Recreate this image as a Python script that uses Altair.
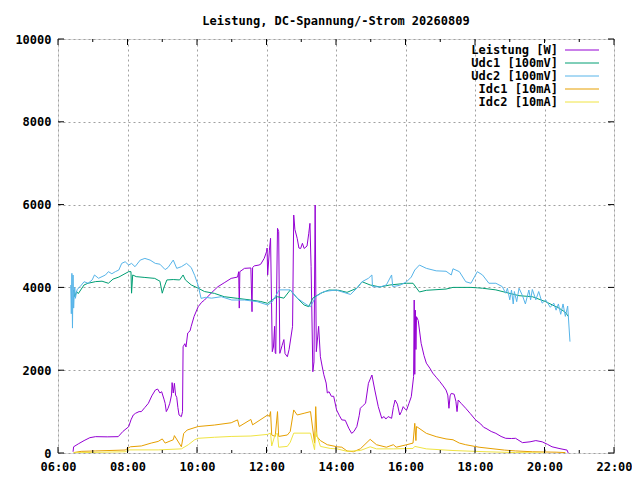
import altair as alt
import pandas as pd

# ---------------- data ----------------
series_names = ["Leistung [W]", "Udc1 [100mV]", "Udc2 [100mV]", "Idc1 [10mA]", "Idc2 [10mA]"]
series_colors = ["#9400d3", "#009e73", "#56b4e9", "#e69f00", "#f0e442"]

p_t = ["06:26","06:27","06:35","06:45","06:55","07:05","07:25","07:44","07:52","08:02","08:06","08:10",
       "08:14","08:20","08:24","08:30","08:36","08:42","08:48","08:52","08:56","08:59","09:03","09:05",
       "09:07","09:10","09:13","09:16","09:17","09:19","09:21","09:23","09:25","09:27","09:29","09:33",
       "09:35","09:36","09:39","09:41","09:44","09:48","09:50","09:55","10:02","10:08","10:13","10:25",
       "10:36","10:48","10:59","11:10","11:12","11:13","11:14","11:22","11:33","11:35","11:36","11:39",
       "11:47","11:50","11:56","12:00","12:01","12:02","12:05","12:07","12:10","12:12","12:14","12:15",
       "12:16","12:19","12:21","12:23","12:27","12:30","12:32","12:36","12:39","12:45","12:47","12:49",
       "12:53","12:56","12:59","13:02","13:05","13:10","13:13","13:15","13:17","13:20","13:22","13:24",
       "13:26","13:30","13:33","13:36","13:39","13:43","13:45","13:48","13:52","13:56","14:01","14:06",
       "14:10","14:16","14:22","14:27","14:31","14:36","14:40","14:42","14:47","14:51","14:56","15:02",
       "15:07","15:13","15:19","15:23","15:26","15:30","15:36","15:39","15:42","15:46","15:50","15:53",
       "15:56","16:00","16:02","16:06","16:10","16:14","16:15","16:16","16:17","16:18","16:19","16:22",
       "16:27","16:32","16:36","16:42","16:47","16:53","16:59","17:05","17:10","17:13","17:15","17:17",
       "17:19","17:24","17:27","17:29","17:31","17:36","17:44","17:52","18:01","18:10","18:15","18:19",
       "18:28","18:36","18:45","18:53","19:03","19:10","19:22","19:35","19:45","19:56","20:05","20:13",
       "20:25","20:39","20:41"]
p_v = [30,150,220,300,370,395,390,395,520,635,800,918,
       960,1000,1000,1100,1200,1380,1520,1545,1450,1480,1300,1200,
       1000,1080,1200,1400,1700,1450,1683,1400,1345,1100,918,878,
       1000,2567,2640,2560,2898,2950,3060,3300,3533,3640,3695,3870,
       4016,4120,4218,4250,4379,3500,4380,4460,4470,3413,4480,4520,
       4540,4560,4700,4860,4950,4300,4900,5185,2447,2560,3060,2420,
       2400,5427,5350,2407,2600,2740,2400,2325,2500,3060,5748,5400,
       5185,4950,4940,5065,4940,5000,5308,5547,4500,1963,2200,5990,
       2447,3060,2325,2100,1890,1690,1450,1480,1370,1370,1040,900,
       800,790,600,475,520,640,900,1080,1150,1200,1683,1884,
       1520,1120,838,880,820,880,838,1100,1280,1180,918,1000,
       1120,1050,1040,1200,1360,1844,3695,1900,3450,2500,3292,3200,
       2650,2350,2170,2050,1930,1830,1730,1620,1520,1400,1080,1380,
       1440,1420,1250,1000,1280,1200,1080,950,800,700,620,595,
       520,475,400,355,350,355,250,270,300,270,210,150,
       110,70,0]

u1_t = ["06:27","06:29","06:32","06:35","06:45","06:52","07:05","07:16","07:27","07:35","07:45","08:02",
        "08:06","08:07","08:09","08:15","08:30","08:47","08:56","09:00","09:03","09:08","09:19","09:30",
        "09:36","09:40","09:50","10:02","10:13","10:30","10:47","11:10","11:33","11:50","12:02","12:10",
        "12:19","12:30","12:41","12:53","13:05","13:13","13:20","13:33","13:48","14:05","14:19","14:36",
        "14:45","14:59","15:16","15:33","16:02","16:13","16:24","16:36","17:10","17:22","17:53","18:04",
        "18:13","18:36","18:53","19:16","19:39","20:02","20:25","20:36","20:41"]
u1_v = [3937,3775,3900,3850,4060,4100,4140,4150,4100,4200,4250,4380,
        4380,3860,4300,4260,4240,4218,4150,3860,4000,4180,4190,4180,
        4300,4180,4060,3980,3900,3856,3775,3735,3695,3660,3615,3700,
        3775,3740,3937,3740,3575,3534,3740,3856,3937,3930,3880,3980,
        4137,4058,4010,4058,4100,4100,3890,3930,3960,4000,4000,3990,
        3980,3940,3880,3800,3775,3655,3500,3400,3300]

u2_t = ["06:22","06:23","06:24","06:25","06:26","06:27","06:28","06:29","06:30","06:33","06:38","06:45",
        "06:52","06:59","07:03","07:10","07:16","07:22","07:27","07:33","07:39","07:45","07:50","07:56",
        "08:02","08:07","08:13","08:22","08:30","08:39","08:48","08:56","09:05","09:10","09:19","09:25",
        "09:33","09:42","09:50","09:56","10:02","10:07","10:15","10:25","10:42","11:00","11:22","11:44",
        "12:02","12:10","12:22","12:41","12:53","13:10","13:16","13:25","13:39","14:00","14:19","14:25",
        "14:36","14:45","14:56","15:02","15:03","15:16","15:27","15:36","15:38","15:50","16:02","16:10",
        "16:16","16:24","16:36","16:53","17:10","17:19","17:22","17:33","17:44","17:53","18:04","18:13",
        "18:24","18:36","18:47","18:53","18:56","19:00","19:03","19:06","19:08","19:12","19:16","19:22",
        "19:27","19:33","19:36","19:39","19:45","19:50","19:56","20:02","20:10","20:16","20:20","20:24",
        "20:28","20:32","20:36","20:40","20:44"]
u2_v = [4057,3364,4340,3017,4299,3500,3816,4000,3736,3950,4016,4137,
        4100,4180,4300,4220,4260,4300,4380,4330,4380,4420,4580,4620,
        4540,4580,4500,4660,4700,4660,4580,4560,4430,4480,4660,4460,
        4500,4580,4480,4290,4050,3735,3760,3740,3775,3695,3695,3655,
        3575,3655,3940,3940,3740,3575,3535,3775,3900,3937,3855,3830,
        3980,4137,4220,4300,4020,4010,4060,4300,4020,4050,4137,4250,
        4420,4540,4460,4400,4390,4300,4450,4380,4137,4100,4380,4300,
        4100,4100,4020,3860,3980,3700,3937,3600,3900,3655,3980,3800,
        3600,3937,3700,3950,3700,3900,3620,3700,3520,3620,3450,3600,
        3350,3600,3300,3550,2690]

i1_t = ["06:27","06:40","07:05","07:56","08:05","08:24","08:41","08:53","09:00","09:05","09:19","09:21",
        "09:33","09:37","09:43","10:02","10:30","10:59","11:10","11:13","11:33","11:36","12:02","12:05",
        "12:07","12:09","12:15","12:19","12:21","12:36","12:41","12:47","12:53","13:05","13:16","13:23",
        "13:25","13:27","13:33","13:45","14:02","14:10","14:19","14:30","14:42","14:59","15:10","15:27",
        "15:39","15:44","16:02","16:13","16:16","16:18","16:19","16:36","16:53","17:10","17:22","17:33",
        "17:44","18:07","18:51","19:10","19:39","20:20","20:36"]
i1_v = [10,40,50,72,150,170,240,280,340,240,320,420,
        150,470,555,640,675,730,800,640,810,680,918,880,
        1000,435,400,1000,400,435,520,1040,918,960,1000,240,
        1120,400,300,200,150,140,50,30,100,330,200,140,
        200,140,200,240,717,300,640,475,395,340,320,240,
        200,140,70,50,30,20,10]

i2_t = ["06:27","07:56","08:02","08:53","09:33","09:45","09:56","10:02","10:30","10:59","11:33","12:02",
        "12:07","12:09","12:15","12:19","12:21","12:36","12:41","12:47","13:16","13:23","13:25","13:33",
        "13:50","14:02","14:19","14:42","14:59","15:10","15:39","16:13","16:16","16:36","17:22","18:19",
        "19:10","20:00"]
i2_v = [5,30,75,75,100,200,320,355,380,400,410,450,
        480,170,450,470,140,160,260,480,480,80,520,160,
        110,100,40,60,150,100,100,110,160,100,60,30,
        10,0]

x_major = [6, 8, 10, 12, 14, 16, 18, 20, 22]
x_minor = [7, 9, 11, 13, 15, 17, 19, 21]
y_major = [0, 2000, 4000, 6000, 8000, 10000]
title_text = "Leistung, DC-Spannung/-Strom 20260809"

# ---------------- build tables ----------------
def hrs(t):
    h, m = t.split(":")
    return int(h) + int(m) / 60.0

rows = []
for name, ts, vs in zip(series_names, [p_t, u1_t, u2_t, i1_t, i2_t], [p_v, u1_v, u2_v, i1_v, i2_v]):
    assert len(ts) == len(vs), name
    for t, v in zip(ts, vs):
        rows.append({"series": name, "h": hrs(t), "v": v})
df = pd.DataFrame(rows)

legend_df = pd.DataFrame({"series": series_names, "color": series_colors})
xmaj_df = pd.DataFrame({"h": x_major})
xmin_df = pd.DataFrame({"h": x_minor})
ymaj_df = pd.DataFrame({"v": y_major})

W, H = 556, 414
FONT = "DejaVu Sans Mono"

xscale = alt.Scale(domain=[6, 22], nice=False, zero=False)
yscale = alt.Scale(domain=[0, 10000], nice=False)

x_axis = alt.Axis(values=x_major, labelExpr="(datum.value < 10 ? '0' : '') + datum.value + ':00'",
                  title=None, grid=True, gridDash=[2, 3], gridColor="#a0a0a0", gridWidth=1,
                  ticks=False, domain=False, labelPadding=8, labelFont=FONT, labelFontSize=12,
                  labelFontWeight="bold", labelColor="black", labelFlush=False)
y_axis = alt.Axis(values=y_major, format="d", title=None, grid=True, gridDash=[2, 3],
                  gridColor="#a0a0a0", gridWidth=1, ticks=False, domain=False, labelPadding=7,
                  labelFont=FONT, labelFontSize=12, labelFontWeight="bold", labelColor="black")

base = alt.Chart(df)
layers = []
# invisible layer carrying axes + grid
layers.append(base.mark_line(opacity=0).encode(
    x=alt.X("h:Q", scale=xscale, axis=x_axis),
    y=alt.Y("v:Q", scale=yscale, axis=y_axis),
    detail="series:N"))

for name, col in zip(series_names, series_colors):
    layers.append(base.transform_filter(alt.datum.series == name).mark_line(
        color=col, strokeWidth=1, clip=True).encode(
        x=alt.X("h:Q", scale=xscale),
        y=alt.Y("v:Q", scale=yscale),
        order="h:Q"))

# inward ticks (bottom / top / left / right)
layers.append(alt.Chart(xmaj_df).mark_rule(color="black").encode(
    x=alt.X("h:Q", scale=xscale), y=alt.value(H), y2=alt.value(H - 6)))
layers.append(alt.Chart(xmaj_df).mark_rule(color="black").encode(
    x=alt.X("h:Q", scale=xscale), y=alt.value(0), y2=alt.value(6)))
layers.append(alt.Chart(xmin_df).mark_rule(color="black").encode(
    x=alt.X("h:Q", scale=xscale), y=alt.value(H), y2=alt.value(H - 3)))
layers.append(alt.Chart(xmin_df).mark_rule(color="black").encode(
    x=alt.X("h:Q", scale=xscale), y=alt.value(0), y2=alt.value(3)))
layers.append(alt.Chart(ymaj_df).mark_rule(color="black").encode(
    y=alt.Y("v:Q", scale=yscale), x=alt.value(0), x2=alt.value(6)))
layers.append(alt.Chart(ymaj_df).mark_rule(color="black").encode(
    y=alt.Y("v:Q", scale=yscale), x=alt.value(W - 6), x2=alt.value(W)))

# custom legend (label left, line sample right), white box behind it
layers.append(alt.Chart(legend_df).mark_rect(color="white").encode(
    x=alt.value(W - 138), x2=alt.value(W - 9), y=alt.value(4), y2=alt.value(69)))
leg = alt.Chart(legend_df).transform_window(idx="row_number()").transform_calculate(
    py="11 + (datum.idx - 1) * 13")
layers.append(leg.mark_text(align="right", baseline="middle", font=FONT, fontSize=12,
                            fontWeight="bold", color="black").encode(
    x=alt.value(W - 56), y=alt.Y("py:Q", scale=None, axis=None), text="series:N"))
layers.append(leg.mark_rule(strokeWidth=1).encode(
    x=alt.value(W - 49), x2=alt.value(W - 15), y=alt.Y("py:Q", scale=None, axis=None),
    color=alt.Color("color:N", scale=None, legend=None)))

chart = alt.layer(*layers).properties(
    width=W, height=H,
    title=alt.TitleParams(title_text, font=FONT, fontSize=12, fontWeight="bold",
                          anchor="middle", offset=5, color="black"),
    autosize=alt.AutoSizeParams(type="none"),
    padding={"left": 50, "top": 31, "right": 18, "bottom": 20},
).configure_view(stroke="black", strokeWidth=1).configure(background="white")

chart.save("out.html", embed_options={"renderer": "svg", "actions": False})
